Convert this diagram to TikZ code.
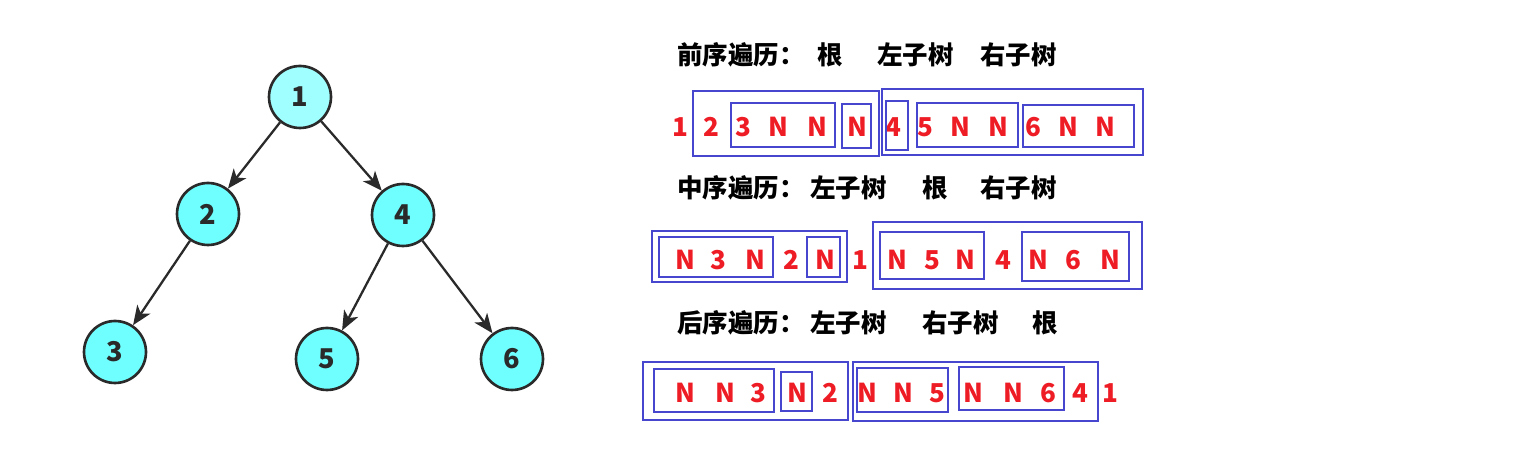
\documentclass[tikz,border=0pt]{standalone}
\usepackage{fontspec}
\setmainfont{Noto Sans CJK SC}
\usetikzlibrary{arrows.meta}
\definecolor{nodecyan}{HTML}{70FFFF}
\definecolor{rootcyan}{HTML}{A0FFFF}
\definecolor{seqred}{HTML}{EE1C25}
\definecolor{boxblue}{HTML}{4646CF}
\definecolor{edgegray}{HTML}{2A2A2A}

\begin{document}
\begin{tikzpicture}[x=0.02cm,y=-0.02cm,
  treenode/.style={circle,draw=edgegray,line width=1.5pt,fill=nodecyan,
    minimum size=1.24cm,inner sep=0,text=edgegray,font=\bfseries\fontsize{15.5}{18}\selectfont},
  treearrow/.style={draw=edgegray,line width=1.3pt,-{Stealth[length=11pt,width=9pt,inset=3pt]}},
  title/.style={anchor=west,inner sep=0,font=\bfseries\fontsize{14.5}{16}\selectfont},
  seq/.style={inner sep=0,text=seqred,font=\bfseries\fontsize{14.8}{17}\selectfont},
  part/.style={draw=boxblue,line width=0.6pt}]
\useasboundingbox (0,0) rectangle (1518,462);

% the tree
\node [treenode,fill=rootcyan] (n1) at (300,97) {1};
\node [treenode] (n2) at (208,214) {2};
\node [treenode] (n4) at (403,215) {4};
\node [treenode] (n3) at (115,352) {3};
\node [treenode] (n5) at (327,359) {5};
\node [treenode] (n6) at (512,359) {6};
\draw [treearrow] (n1) -- (n2);
\draw [treearrow] (n1) -- (n4);
\draw [treearrow] (n2) -- (n3);
\draw [treearrow] (n4) -- (n5);
\draw [treearrow] (n4) -- (n6);

% preorder
\node [title] (preT) at (677,55) {前序遍历：};
\node [title] (preRoot) at (817,55) {根};
\node [title] (preL) at (877,55) {左子树};
\node [title] (preR) at (980,55) {右子树};
\foreach \x/\t [count=\i] in {680/1,711/2,743/3,778/N,817/N,857/N,893/4,925/5,960/N,998/N,1033/6,1068/N,1105/N}
  \node [seq] (pre\i) at (\x,127) {\t};
\draw [part] (693,91) rectangle (879,156);
\draw [part] (731,103) rectangle (835,147);
\draw [part] (842,104) rectangle (871,148);
\draw [part] (882,89) rectangle (1143,155);
\draw [part] (886,101) rectangle (908,150);
\draw [part] (917,103) rectangle (1018,147);
\draw [part] (1023,105) rectangle (1134,147);

% inorder
\node [title] (inT) at (677,188) {中序遍历：};
\node [title] (inL) at (810,188) {左子树};
\node [title] (inRoot) at (922,188) {根};
\node [title] (inR) at (980,188) {右子树};
\foreach \x/\t [count=\i] in {685/N,718/3,755/N,791/2,825/N,860/1,897/N,932/5,965/N,1003/4,1038/N,1073/6,1110/N}
  \node [seq] (in\i) at (\x,260) {\t};
\draw [part] (652,231) rectangle (847,282);
\draw [part] (659,237) rectangle (773,277);
\draw [part] (807,237) rectangle (840,277);
\draw [part] (873,222) rectangle (1142,289);
\draw [part] (880,232) rectangle (984,279);
\draw [part] (1022,232) rectangle (1129,281);

% postorder
\node [title] (postT) at (677,323) {后序遍历：};
\node [title] (postL) at (810,323) {左子树};
\node [title] (postR) at (922,323) {右子树};
\node [title] (postRoot) at (1032,323) {根};
\foreach \x/\t [count=\i] in {685/N,725/N,758/3,797/N,830/2,867/N,903/N,937/5,973/N,1013/N,1048/6,1080/4,1110/1}
  \node [seq] (post\i) at (\x,393) {\t};
\draw [part] (643,362) rectangle (848,420);
\draw [part] (654,369) rectangle (774,412);
\draw [part] (781,372) rectangle (812,411);
\draw [part] (853,362) rectangle (1098,421);
\draw [part] (857,368) rectangle (948,412);
\draw [part] (959,367) rectangle (1064,410);
\end{tikzpicture}
\end{document}
